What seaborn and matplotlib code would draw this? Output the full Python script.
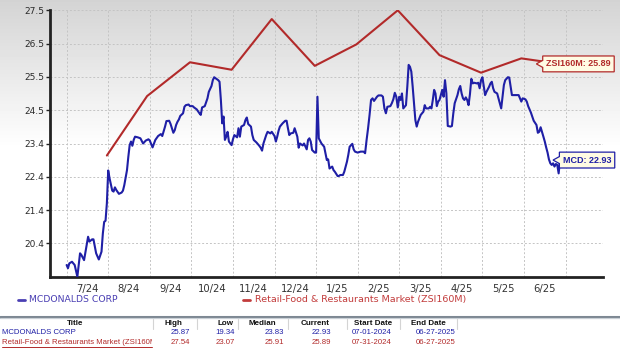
import numpy as np
import pandas as pd
import matplotlib
matplotlib.use("Agg")
import matplotlib.pyplot as plt
import seaborn as sns
from matplotlib.lines import Line2D
from matplotlib.path import Path

# ---- data ----
start_date = pd.Timestamp("2024-07-01")

# McDonald's: calendar days after 2024-07-01 and relative price
mcd_day = [0, 1, 2, 4, 6, 8, 10, 11, 13, 16, 17, 19, 20, 22, 24, 26, 27, 28, 29, 30,
           31, 32, 34, 35, 36, 37, 39, 41, 42, 43, 45, 46, 47, 48, 49, 50, 51, 53, 55, 57,
           59, 61, 62, 64, 65, 66, 68, 70, 71, 73, 74, 76, 77, 79, 80, 81, 82, 83, 84, 86,
           87, 88, 90, 91, 93, 94, 96, 98, 99, 100, 102, 104, 105, 107, 108, 109, 110, 112, 113, 114,
           115, 116, 117, 118, 119, 120, 122, 123, 124, 126, 127, 128, 129, 131, 132, 133, 134, 136, 137, 138,
           140, 142, 143, 144, 145, 147, 148, 150, 151, 153, 154, 155, 156, 157, 159, 161, 162, 163, 164, 165,
           167, 168, 170, 171, 172, 174, 175, 177, 178, 179, 180, 181, 183, 184, 185, 186, 188, 190, 191, 192,
           193, 194, 196, 197, 198, 200, 201, 202, 204, 205, 207, 208, 209, 211, 212, 213, 215, 217, 219, 220,
           221, 222, 223, 224, 225, 226, 228, 229, 231, 232, 233, 234, 235, 237, 238, 239, 240, 241, 242, 243,
           244, 245, 246, 248, 249, 250, 251, 252, 253, 254, 255, 256, 257, 259, 261, 262, 263, 265, 266, 267,
           268, 269, 270, 271, 272, 273, 274, 275, 276, 277, 278, 279, 281, 282, 283, 284, 286, 287, 288, 289,
           290, 291, 292, 293, 294, 295, 296, 297, 298, 300, 301, 302, 303, 304, 305, 306, 307, 309, 310, 311,
           312, 313, 315, 316, 318, 319, 320, 321, 323, 324, 325, 326, 327, 329, 331, 332, 333, 334, 336, 337,
           338, 340, 341, 342, 344, 345, 346, 347, 348, 349, 350, 351, 352, 353, 354, 355, 356, 357, 358, 359,
           360, 361]
mcd_close = [19.70, 19.60, 19.75, 19.80, 19.70, 19.34, 20.06, 20.01, 19.85, 20.57, 20.42, 20.49, 20.49, 20.06, 19.87, 20.11, 20.67, 21.03, 21.06, 21.60,
             22.61, 22.37, 21.99, 21.96, 22.09, 22.01, 21.89, 21.93, 21.99, 22.16, 22.62, 23.03, 23.39, 23.50, 23.37, 23.55, 23.65, 23.63, 23.60, 23.44,
             23.53, 23.57, 23.53, 23.32, 23.44, 23.55, 23.67, 23.73, 23.67, 23.96, 24.13, 24.14, 24.04, 23.77, 23.85, 24.01, 24.11, 24.18, 24.29, 24.37,
             24.57, 24.62, 24.64, 24.59, 24.59, 24.55, 24.49, 24.37, 24.32, 24.55, 24.59, 24.83, 25.03, 25.21, 25.39, 25.48, 25.45, 25.39, 25.34, 24.78,
             24.06, 24.27, 23.55, 23.65, 23.80, 23.50, 23.39, 23.57, 23.70, 23.63, 23.91, 23.65, 23.96, 24.01, 24.16, 24.24, 24.04, 23.96, 23.70, 23.55,
             23.47, 23.37, 23.31, 23.22, 23.44, 23.70, 23.80, 23.75, 23.80, 23.67, 23.50, 23.65, 23.83, 23.96, 24.06, 24.14, 24.14, 23.91, 23.70, 23.75,
             23.77, 23.91, 23.65, 23.31, 23.44, 23.38, 23.44, 23.26, 23.55, 23.60, 23.50, 23.24, 23.16, 23.16, 24.88, 23.60, 23.44, 23.34, 23.14, 22.93,
             22.95, 22.67, 22.73, 22.62, 22.57, 22.44, 22.44, 22.47, 22.47, 22.57, 22.88, 23.09, 23.34, 23.43, 23.26, 23.19, 23.16, 23.19, 23.19, 23.14,
             23.55, 23.91, 24.32, 24.78, 24.83, 24.75, 24.88, 24.92, 24.92, 24.88, 24.52, 24.37, 24.57, 24.59, 24.68, 24.80, 25.00, 24.88, 24.55, 24.88,
             24.78, 24.98, 24.52, 24.62, 25.19, 25.86, 25.80, 25.65, 25.19, 24.68, 24.16, 23.96, 24.11, 24.32, 24.42, 24.62, 24.52, 24.52, 24.57, 24.52,
             24.78, 25.09, 24.98, 24.59, 24.73, 24.78, 24.93, 25.09, 24.88, 25.39, 24.98, 23.98, 23.96, 23.98, 24.37, 24.68, 24.93, 25.11, 25.21, 24.98,
             24.83, 24.78, 24.86, 24.78, 24.62, 24.96, 25.43, 25.29, 25.31, 25.29, 25.31, 25.14, 25.39, 25.48, 25.21, 24.93, 25.03, 25.19, 25.29, 25.34,
             25.14, 25.03, 24.98, 24.83, 24.52, 24.88, 25.24, 25.39, 25.48, 25.47, 25.19, 24.93, 24.93, 24.93, 24.93, 24.83, 24.73, 24.83, 24.80, 24.73,
             24.59, 24.39, 24.27, 24.14, 24.01, 23.77, 23.80, 23.94, 23.80, 23.65, 23.50, 23.32, 23.16, 22.95, 22.83, 22.78, 22.83, 22.73, 22.81, 22.78,
             22.52, 22.93]

# Retail-Food & Restaurants Market (ZSI160M), month-end points
zsi_date = ["2024-07-31", "2024-08-30", "2024-09-30", "2024-10-31", "2024-11-29", "2024-12-31",
            "2025-01-31", "2025-02-28", "2025-03-31", "2025-04-30", "2025-05-30", "2025-06-27"]
zsi_close = [23.07, 24.90, 25.94, 25.71, 27.27, 25.83, 26.49, 27.54, 26.16, 25.62, 26.06, 25.89]

month_labels = ["7/24", "8/24", "9/24", "10/24", "11/24", "12/24",
                "1/25", "2/25", "3/25", "4/25", "5/25", "6/25"]

y_low, y_high = 19.34, 27.54

table_head = ["Title", "High", "Low", "Median", "Current", "Start Date", "End Date"]
mcd_row = ["MCDONALDS CORP", "25.87", "19.34", "23.83", "22.93", "07-01-2024", "06-27-2025"]
zsi_row = ["Retail-Food & Restaurants Market (ZSI160M)", "27.54", "23.07", "25.91", "25.89",
           "07-31-2024", "06-27-2025"]

BLUE = "#1f1fa6"
RED = "#b22a2a"
LEG_BLUE = "#4a3fb3"
LEG_RED = "#c23b3b"


def month_pos(d):
    # each calendar month gets the same width on this chart
    return (d.year - 2024) * 12 + (d.month - 7) + (d.day - 1) / d.days_in_month


def tag_box(x0, y0, width, height, mutation_size):
    # label box with a small pointer on its left side
    pad = 0.38 * mutation_size
    x0, y0 = x0 - pad, y0 - pad
    x1, y1 = x0 + width + 2 * pad, y0 + height + 2 * pad
    h = y1 - y0
    tip = 0.4 * h
    verts = [(x0, y0), (x1, y0), (x1, y1), (x0, y1), (x0, y0 + 0.72 * h),
             (x0 - tip, y0 + 0.5 * h), (x0, y0 + 0.28 * h), (x0, y0)]
    return Path(verts, closed=True)


mcd = pd.DataFrame({"date": start_date + pd.to_timedelta(mcd_day, unit="D"), "close": mcd_close})
mcd["pos"] = mcd["date"].apply(month_pos)
zsi = pd.DataFrame({"date": pd.to_datetime(zsi_date), "close": zsi_close})
zsi["pos"] = zsi["date"].apply(month_pos)

W, H = 620, 353


def fx(px):
    return px / W


def fy(py):
    return 1 - py / H


sns.set_theme(style="white")
plt.rcParams["font.family"] = ["DejaVu Sans"]

fig = plt.figure(figsize=(W / 100, H / 100), dpi=100)
fig.patch.set_facecolor("white")

# grey fade at the top of the picture
bg = fig.add_axes([0, 0, 1, 1], zorder=-10)
rows = np.linspace(0, 1, 353)
shade = np.clip(0.83 + 0.17 * rows / 0.42, 0, 1)
bg.imshow(np.repeat(shade[:, None], 2, axis=1), cmap="gray", vmin=0, vmax=1,
          aspect="auto", extent=[0, 1, 0, 1], origin="upper")
bg.set_axis_off()

ax = fig.add_axes([fx(50), fy(276.7), fx(603) - fx(50), fy(10.3) - fy(276.7)])
ax.set_facecolor("none")

sns.lineplot(data=mcd, x="pos", y="close", ax=ax, color=BLUE, linewidth=1.5,
             estimator=None, sort=False, zorder=3)
sns.lineplot(data=zsi, x="pos", y="close", ax=ax, color=RED, linewidth=1.5,
             estimator=None, sort=False, zorder=3)

ax.set_xlim(-0.40, 12.90)
ax.set_ylim(y_low, y_high)
yt = np.linspace(y_low, y_high, 9)[1:]
ax.set_yticks(yt, [f"{v:.1f}" for v in yt])
ax.set_xticks(np.arange(12) + 0.5, month_labels)
ax.set_xticks(np.arange(13), minor=True)
ax.set_xlabel("")
ax.set_ylabel("")

ax.grid(axis="y", which="major", color="#c4c4c4", linestyle=(0, (2, 2)), linewidth=0.7)
ax.grid(axis="x", which="minor", color="#c4c4c4", linestyle=(0, (2, 2)), linewidth=0.7)
ax.grid(axis="x", which="major", visible=False)

for side in ["top", "right"]:
    ax.spines[side].set_visible(False)
for side in ["left", "bottom"]:
    ax.spines[side].set_color("#222222")
    ax.spines[side].set_linewidth(2)

ax.tick_params(axis="y", which="major", length=3, width=1, color="#222222",
               labelsize=6.5, labelcolor="#2a2a2a", pad=1, left=True)
ax.tick_params(axis="x", which="major", length=0, labelsize=7.2, labelcolor="#333333", pad=5)
ax.tick_params(axis="x", which="minor", length=0)

# end-of-line callouts
last_z = zsi.iloc[-1]
ax.annotate("ZSI160M: 25.89", xy=(last_z["pos"], last_z["close"]), xytext=(-10, 0),
            textcoords="offset points", ha="left", va="center", fontsize=6.5,
            fontweight="bold", color=RED, family="Liberation Sans", zorder=6,
            annotation_clip=False,
            bbox=dict(boxstyle=tag_box, fc="#fffbe3", ec=RED, lw=0.9))
last_m = mcd.iloc[-1]
ax.annotate("MCD: 22.93", xy=(last_m["pos"], last_m["close"]), xytext=(2, 0),
            textcoords="offset points", ha="left", va="center", fontsize=6.5,
            fontweight="bold", color=BLUE, family="Liberation Sans", zorder=6,
            annotation_clip=False,
            bbox=dict(boxstyle=tag_box, fc="#fffbe3", ec=BLUE, lw=0.9))

# legend row
fig.add_artist(Line2D([fx(18), fx(25)], [fy(299.5)] * 2, color=LEG_BLUE, lw=2))
fig.text(fx(29), fy(299.5), "MCDONALDS CORP", color=LEG_BLUE, fontsize=6.7, va="center")
fig.add_artist(Line2D([fx(243), fx(250)], [fy(299.5)] * 2, color=LEG_RED, lw=2))
fig.text(fx(255), fy(299.5), "Retail-Food & Restaurants Market (ZSI160M)", color=LEG_RED,
         fontsize=6.8, va="center")

# separator
fig.add_artist(Line2D([0, 1], [fy(316.5)] * 2, color="#7d8893", lw=2.2))
fig.add_artist(Line2D([0, 1], [fy(318.3)] * 2, color="#c9d0d6", lw=0.8))

# summary table
col_edges = [0, 153, 197, 238, 288, 347, 400, 457]
head_x = [75, 173, 225, 262, 315, 373, 428]
right_x = [None, 190, 235, 284, 331, 392, 455]
for e in col_edges[1:]:
    fig.add_artist(Line2D([fx(e)] * 2, [fy(319), fy(328.5)], color="#d4d4d4", lw=0.8))
for name, x in zip(table_head, head_x):
    fig.text(fx(x), fy(323.6), name, ha="center", va="center", fontsize=5.8,
             fontweight="bold", color="#111111", family="Liberation Sans")

for row, y, col in [(mcd_row, 332.7, BLUE), (zsi_row, 342.7, RED)]:
    t = fig.text(fx(2), fy(y), row[0], ha="left", va="center", fontsize=5.6,
                 color=col, family="Liberation Sans")
    clip = plt.Rectangle((0, 0), fx(152), 1, transform=fig.transFigure)
    t.set_clip_path(clip)
    for val, x in zip(row[1:], right_x[1:]):
        fig.text(fx(x), fy(y), val, ha="right", va="center", fontsize=5.6,
                 color=col, family="Liberation Sans")
fig.add_artist(Line2D([fx(2), fx(152)], [fy(346.6)] * 2, color=RED, lw=0.7))

fig.savefig("out.png", dpi=100)
